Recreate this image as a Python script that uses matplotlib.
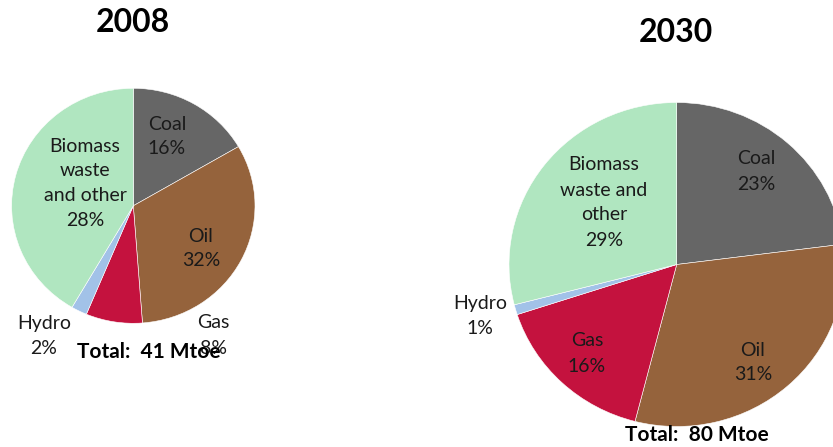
import matplotlib
matplotlib.use("Agg")
import matplotlib.pyplot as plt

W, H = 833, 447
FONT = ["Lato", "DejaVu Sans"]

categories = ["Coal", "Oil", "Gas", "Hydro", "Biomass waste and other"]
colors = ["#666666", "#95633C", "#C4123E", "#A2C2E8", "#B0E6C0"]

values_2008 = [16.6, 32.2, 7.5, 2.1, 41.6]
values_2030 = [23, 31, 16, 1, 29]

titles = ["2008", "2030"]
totals = ["Total:  41 Mtoe", "Total:  80 Mtoe"]

labels_2008 = {
    "Coal": (["Coal", "16%"], (167, 124)),
    "Oil": (["Oil", "32%"], (201, 236)),
    "Gas": (["Gas", "8%"], (213, 323)),
    "Hydro": (["Hydro", "2%"], (44, 323)),
    "Biomass": (["Biomass", "waste", "and other", "28%"], (85, 146)),
}
labels_2030 = {
    "Coal": (["Coal", "23%"], (756, 159)),
    "Oil": (["Oil", "31%"], (753, 350)),
    "Gas": (["Gas", "16%"], (587, 341)),
    "Hydro": (["Hydro", "1%"], (480, 303)),
    "Biomass": (["Biomass", "waste and", "other", "29%"], (604, 165)),
}

fig = plt.figure(figsize=(W / 100, H / 100), dpi=100)
fig.patch.set_facecolor("white")


def pie_axes(cx, cy, rx, ry, values):
    ax = fig.add_axes([(cx - rx) / W, 1 - (cy + ry) / H, 2 * rx / W, 2 * ry / H])
    ax.pie(values, colors=colors, startangle=90, counterclock=False, radius=1,
           wedgeprops=dict(edgecolor="white", linewidth=0.4))
    ax.set_aspect("auto")
    ax.set_xlim(-1, 1)
    ax.set_ylim(-1, 1)
    ax.axis("off")
    return ax


pie_axes(133.3, 205.8, 121.7, 117.5, values_2008)
pie_axes(676.7, 264.5, 167.7, 162.0, values_2030)


def ptext(x, y, s, **kw):
    fig.text(x / W, 1 - y / H, s, ha="center", va="center", family=FONT, **kw)


LS = 25
for labels in (labels_2008, labels_2030):
    for key, (lines, (x, y)) in labels.items():
        for i, line in enumerate(lines):
            ptext(x, y + i * LS, line, fontsize=14, color="#1a1a1a")

ptext(133, 23, titles[0], fontsize=23, fontweight="bold", color="black")
ptext(676, 33, titles[1], fontsize=23, fontweight="bold", color="black")
ptext(149, 352, totals[0], fontsize=15, fontweight="bold", color="black")
ptext(697, 435, totals[1], fontsize=15, fontweight="bold", color="black")

fig.savefig("out.png", dpi=100)
